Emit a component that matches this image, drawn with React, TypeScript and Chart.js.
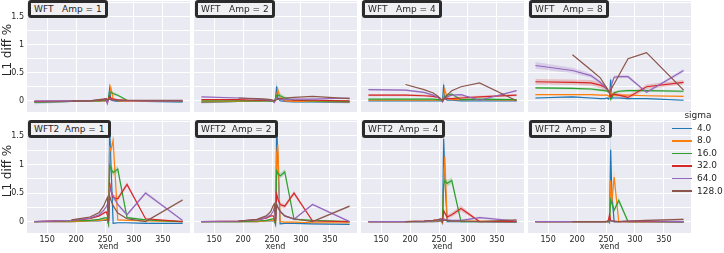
import React, { useEffect, useRef } from "react";
import { Chart, registerables } from "chart.js";

Chart.register(...registerables);

// ---------------- data ----------------
const XEND = [128, 192, 224, 240, 248, 252, 254, 256, 258, 260, 264, 272, 288, 320, 384];
const SIGMA_LABELS = ["4.0", "8.0", "16.0", "32.0", "64.0", "128.0"];
const COLORS = ["#1f77b4", "#ff7f0e", "#2ca02c", "#d62728", "#9467bd", "#8c564b"];
const X_TICKS = [150, 200, 250, 300, 350];
const Y_GRID = [0, 0.25, 0.5, 0.75, 1, 1.25, 1.5, 1.75];
const Y_LABELS = ["0", "", "0.5", "", "1", "", "1.5", ""];
const PANEL_TITLES = [
  "WFT   Amp = 1", "WFT   Amp = 2", "WFT   Amp = 4", "WFT   Amp = 8",
  "WFT2  Amp = 1", "WFT2  Amp = 2", "WFT2  Amp = 4", "WFT2  Amp = 8",
];

// WFT Amp = 1
const p1_s4 = [-0.03, -0.01, 0.0, 0.0, 0.0, 0.0, -0.02, 0.04, 0.22, 0.02, 0.0, -0.01, -0.01, -0.01, -0.02];
const p1_s8 = [-0.02, -0.01, 0.0, 0.0, 0.0, 0.0, -0.01, 0.02, 0.1, 0.24, 0.04, 0.0, -0.01, -0.01, -0.01];
const p1_s16 = [-0.02, -0.01, 0.0, 0.0, 0.01, 0.01, 0.0, 0.05, 0.15, 0.15, 0.13, 0.1, 0.01, 0.0, -0.01];
const p1_s32 = [-0.01, 0.0, 0.0, 0.01, 0.02, 0.02, -0.04, 0.04, 0.08, 0.05, 0.03, 0.02, 0.01, 0.0, 0.0];
const p1_s64 = [0.0, 0.0, 0.0, 0.02, 0.03, 0.03, -0.05, 0.02, 0.04, 0.02, 0.01, 0.01, 0.0, 0.0, 0.0];
const p1_s128 = [null, 0.0, 0.0, 0.02, 0.03, 0.04, 0.01, 0.02, 0.03, 0.02, 0.01, 0.01, 0.01, 0.01, 0.01];
const p1_e4 = [0.03, 0.01, 0.0, 0.0, 0.0, 0.0, 0.01, 0.03, 0.06, 0.02, 0.01, 0.01, 0.01, 0.01, 0.02];
const p1_e8 = [0.01, 0.01, 0.0, 0.0, 0.0, 0.0, 0.01, 0.02, 0.04, 0.05, 0.02, 0.01, 0.0, 0.01, 0.01];
const p1_e16 = [0.01, 0.0, 0.0, 0.0, 0.0, 0.0, 0.01, 0.02, 0.03, 0.04, 0.03, 0.02, 0.01, 0.0, 0.01];

// WFT Amp = 2
const p2_s4 = [-0.03, -0.01, 0.0, 0.0, -0.01, -0.01, -0.02, 0.04, 0.26, 0.05, 0.0, -0.01, -0.02, -0.02, -0.03];
const p2_s8 = [-0.02, -0.01, 0.0, 0.0, 0.0, -0.01, -0.02, 0.02, 0.1, 0.2, 0.05, 0.0, -0.01, -0.01, -0.02];
const p2_s16 = [0.0, 0.0, 0.0, 0.0, 0.0, 0.0, -0.02, 0.04, 0.1, 0.1, 0.09, 0.05, 0.01, 0.0, -0.01];
const p2_s32 = [0.02, 0.02, 0.01, 0.01, 0.01, 0.0, -0.01, 0.02, 0.04, 0.03, 0.03, 0.02, 0.01, 0.01, 0.0];
const p2_s64 = [0.07, 0.05, 0.03, 0.02, 0.01, 0.0, -0.03, 0.02, 0.04, 0.03, 0.02, 0.02, 0.03, 0.03, 0.05];
const p2_s128 = [null, 0.05, 0.04, 0.03, 0.02, 0.01, 0.0, 0.01, 0.02, 0.03, 0.04, 0.05, 0.06, 0.08, 0.04];
const p2_e4 = [0.02, 0.01, 0.0, 0.0, 0.01, 0.01, 0.01, 0.03, 0.12, 0.03, 0.01, 0.01, 0.01, 0.01, 0.02];
const p2_e8 = [0.01, 0.01, 0.0, 0.0, 0.0, 0.01, 0.01, 0.02, 0.05, 0.07, 0.03, 0.01, 0.01, 0.01, 0.01];
const p2_e16 = [0.01, 0.0, 0.0, 0.0, 0.0, 0.0, 0.01, 0.02, 0.04, 0.05, 0.05, 0.03, 0.01, 0.0, 0.01];
const p2_e64 = [0.01, 0.01, 0.01, 0.0, 0.0, 0.0, 0.01, 0.01, 0.01, 0.01, 0.01, 0.01, 0.01, 0.01, 0.01];

// WFT Amp = 4
const p3_s4 = [0.0, 0.0, 0.0, 0.0, 0.0, 0.0, 0.0, -0.01, 0.29, 0.05, 0.01, 0.01, 0.0, 0.0, 0.0];
const p3_s8 = [0.01, 0.01, 0.01, 0.01, 0.01, 0.01, 0.01, -0.01, 0.08, 0.2, 0.05, 0.02, 0.02, 0.02, 0.01];
const p3_s16 = [0.03, 0.03, 0.03, 0.03, 0.02, 0.02, 0.01, 0.0, 0.05, 0.07, 0.1, 0.12, 0.02, 0.03, 0.02];
const p3_s32 = [0.1, 0.1, 0.09, 0.08, 0.06, 0.04, 0.02, -0.01, 0.02, 0.03, 0.04, 0.04, 0.05, 0.07, 0.1];
const p3_s64 = [0.2, 0.19, 0.15, 0.1, 0.06, 0.03, 0.01, -0.02, 0.02, 0.04, 0.07, 0.1, 0.11, 0.01, 0.18];
const p3_s128 = [null, 0.29, 0.2, 0.14, 0.08, 0.04, 0.02, 0.0, 0.03, 0.05, 0.1, 0.18, 0.25, 0.32, 0.0];
const p3_e4 = [0.0, 0.0, 0.0, 0.0, 0.0, 0.0, 0.0, 0.02, 0.1, 0.03, 0.01, 0.0, 0.0, 0.0, 0.0];
const p3_e8 = [0.0, 0.0, 0.0, 0.0, 0.0, 0.0, 0.0, 0.01, 0.04, 0.06, 0.03, 0.01, 0.0, 0.0, 0.0];
const p3_e16 = [0.01, 0.01, 0.01, 0.01, 0.01, 0.01, 0.01, 0.01, 0.02, 0.03, 0.03, 0.02, 0.01, 0.01, 0.01];
const p3_e32 = [0.02, 0.02, 0.02, 0.02, 0.02, 0.02, 0.01, 0.01, 0.02, 0.02, 0.02, 0.02, 0.03, 0.02, 0.02];
const p3_e64 = [0.015, 0.015, 0.015, 0.01, 0.01, 0.01, 0.01, 0.01, 0.01, 0.01, 0.01, 0.01, 0.01, 0.01, 0.015];

// WFT Amp = 8
const p4_s4 = [0.05, 0.07, 0.05, 0.04, 0.04, 0.05, 0.03, 0.06, 0.38, 0.05, 0.05, 0.05, 0.04, 0.04, 0.01];
const p4_s8 = [0.11, 0.11, 0.11, 0.1, 0.1, 0.1, 0.09, 0.06, 0.2, 0.12, 0.1, 0.1, 0.1, 0.09, 0.08];
const p4_s16 = [0.23, 0.22, 0.21, 0.19, 0.18, 0.17, 0.16, 0.15, 0.03, 0.06, 0.14, 0.17, 0.18, 0.18, 0.17];
const p4_s32 = [0.34, 0.33, 0.32, 0.28, 0.24, 0.2, 0.17, 0.15, 0.07, 0.1, 0.12, 0.1, 0.06, 0.25, 0.33];
const p4_s64 = [0.63, 0.54, 0.45, 0.33, 0.25, 0.2, 0.17, 0.15, 0.2, 0.3, 0.42, 0.43, 0.43, 0.15, 0.54];
const p4_s128 = [null, 0.82, 0.55, 0.41, 0.28, 0.22, 0.18, 0.15, 0.19, 0.23, 0.3, 0.45, 0.75, 0.86, 0.19];
const p4_e4 = [0.01, 0.01, 0.01, 0.01, 0.01, 0.01, 0.01, 0.04, 0.09, 0.03, 0.01, 0.01, 0.01, 0.01, 0.01];
const p4_e8 = [0.01, 0.01, 0.01, 0.01, 0.01, 0.01, 0.01, 0.03, 0.05, 0.03, 0.01, 0.01, 0.01, 0.01, 0.01];
const p4_e16 = [0.02, 0.02, 0.02, 0.02, 0.02, 0.02, 0.02, 0.03, 0.06, 0.05, 0.03, 0.02, 0.02, 0.02, 0.02];
const p4_e32 = [0.05, 0.05, 0.05, 0.05, 0.05, 0.04, 0.04, 0.04, 0.05, 0.05, 0.05, 0.04, 0.04, 0.04, 0.04];
const p4_e64 = [0.06, 0.05, 0.04, 0.03, 0.03, 0.03, 0.03, 0.03, 0.04, 0.04, 0.03, 0.03, 0.03, 0.02, 0.03];
const p4_e128 = [null, 0.01, 0.01, 0.01, 0.01, 0.01, 0.01, 0.01, 0.01, 0.01, 0.01, 0.01, 0.01, 0.01, 0.01];

// WFT2 Amp = 1
const p5_s4 = [0.0, 0.0, 0.01, 0.01, 0.02, 0.02, 0.02, -0.05, 1.64, 1.08, -0.03, -0.02, -0.02, -0.03, -0.03];
const p5_s8 = [0.0, 0.0, 0.01, 0.02, 0.03, 0.04, 0.02, -0.04, 1.3, 1.25, 1.42, 0.03, 0.02, 0.01, 0.0];
const p5_s16 = [0.0, 0.01, 0.02, 0.04, 0.06, 0.07, 0.05, -0.03, 0.98, 0.93, 0.86, 0.92, 0.07, 0.03, 0.0];
const p5_s32 = [0.0, 0.02, 0.05, 0.1, 0.15, 0.17, 0.12, 0.0, 0.68, 0.55, 0.42, 0.4, 0.65, 0.05, 0.0];
const p5_s64 = [0.0, 0.02, 0.06, 0.12, 0.2, 0.26, 0.3, 0.0, 0.6, 0.55, 0.45, 0.3, 0.12, 0.5, 0.02];
const p5_s128 = [null, 0.03, 0.08, 0.16, 0.28, 0.38, 0.42, 0.0, 0.45, 0.38, 0.28, 0.15, 0.05, 0.0, 0.38];
const p5_e4 = [0.0, 0.0, 0.0, 0.0, 0.0, 0.0, 0.0, 0.02, 0.15, 0.1, 0.01, 0.01, 0.01, 0.01, 0.01];
const p5_e8 = [0.0, 0.0, 0.0, 0.0, 0.01, 0.01, 0.01, 0.02, 0.08, 0.1, 0.12, 0.01, 0.01, 0.0, 0.0];
const p5_e16 = [0.0, 0.0, 0.0, 0.01, 0.01, 0.01, 0.01, 0.02, 0.07, 0.07, 0.06, 0.06, 0.02, 0.01, 0.0];
const p5_e32 = [0.0, 0.0, 0.01, 0.01, 0.02, 0.02, 0.02, 0.01, 0.05, 0.05, 0.05, 0.05, 0.04, 0.01, 0.0];
const p5_e64 = [0.0, 0.0, 0.01, 0.01, 0.02, 0.02, 0.03, 0.01, 0.04, 0.04, 0.04, 0.03, 0.02, 0.03, 0.01];
const p5_e128 = [null, 0.0, 0.01, 0.01, 0.02, 0.02, 0.02, 0.01, 0.02, 0.02, 0.02, 0.01, 0.01, 0.01, 0.02];

// WFT2 Amp = 2
const p6_s4 = [0.0, 0.0, 0.0, 0.01, 0.01, 0.01, 0.01, -0.05, 1.7, 1.1, -0.04, -0.03, -0.03, -0.04, -0.05];
const p6_s8 = [0.0, 0.0, 0.0, 0.01, 0.02, 0.02, 0.01, -0.03, 1.2, 1.35, 0.0, -0.01, -0.01, -0.02, -0.02];
const p6_s16 = [0.0, 0.0, 0.01, 0.02, 0.04, 0.05, 0.03, -0.03, 0.89, 0.85, 0.8, 0.87, 0.04, 0.02, 0.0];
const p6_s32 = [0.0, 0.01, 0.03, 0.06, 0.1, 0.1, 0.06, 0.0, 0.48, 0.4, 0.3, 0.27, 0.5, 0.01, 0.0];
const p6_s64 = [0.0, 0.01, 0.03, 0.07, 0.12, 0.18, 0.25, 0.02, 0.3, 0.25, 0.18, 0.1, 0.04, 0.3, 0.0];
const p6_s128 = [null, 0.01, 0.04, 0.1, 0.18, 0.28, 0.31, 0.0, 0.3, 0.25, 0.18, 0.1, 0.05, 0.0, 0.27];
const p6_e4 = [0.0, 0.0, 0.0, 0.0, 0.0, 0.0, 0.0, 0.02, 0.12, 0.1, 0.01, 0.01, 0.01, 0.01, 0.01];
const p6_e8 = [0.0, 0.0, 0.0, 0.0, 0.01, 0.01, 0.01, 0.02, 0.1, 0.12, 0.02, 0.01, 0.01, 0.0, 0.0];
const p6_e16 = [0.0, 0.0, 0.0, 0.01, 0.01, 0.01, 0.01, 0.02, 0.06, 0.06, 0.05, 0.05, 0.02, 0.01, 0.0];
const p6_e32 = [0.0, 0.0, 0.01, 0.01, 0.01, 0.01, 0.01, 0.01, 0.05, 0.05, 0.04, 0.04, 0.04, 0.01, 0.0];
const p6_e64 = [0.0, 0.0, 0.01, 0.01, 0.01, 0.02, 0.02, 0.01, 0.03, 0.03, 0.02, 0.02, 0.01, 0.02, 0.01];
const p6_e128 = [null, 0.0, 0.01, 0.01, 0.02, 0.02, 0.02, 0.01, 0.02, 0.02, 0.02, 0.01, 0.01, 0.01, 0.02];

// WFT2 Amp = 4
const p7_s4 = [0.0, 0.0, 0.0, 0.0, 0.0, 0.01, 0.0, -0.03, 1.45, 0.8, 0.0, 0.0, 0.0, 0.0, -0.01];
const p7_s8 = [0.0, 0.0, 0.0, 0.0, 0.01, 0.01, 0.01, -0.02, 0.6, 1.14, 0.02, 0.01, 0.01, 0.01, 0.0];
const p7_s16 = [0.0, 0.0, 0.0, 0.01, 0.02, 0.02, 0.02, 0.0, 0.65, 0.72, 0.67, 0.72, 0.0, 0.0, 0.0];
const p7_s32 = [0.0, 0.0, 0.01, 0.02, 0.03, 0.04, 0.03, 0.0, 0.19, 0.15, 0.08, 0.12, 0.23, 0.0, 0.0];
const p7_s64 = [0.0, 0.0, 0.0, 0.01, 0.02, 0.03, 0.04, 0.02, 0.05, 0.04, 0.03, 0.02, 0.02, 0.07, 0.01];
const p7_s128 = [null, 0.0, 0.01, 0.02, 0.03, 0.05, 0.05, 0.0, 0.03, 0.02, 0.02, 0.01, 0.01, 0.0, 0.03];
const p7_e4 = [0.0, 0.0, 0.0, 0.0, 0.0, 0.0, 0.0, 0.02, 0.28, 0.15, 0.01, 0.0, 0.0, 0.0, 0.0];
const p7_e8 = [0.0, 0.0, 0.0, 0.0, 0.0, 0.0, 0.0, 0.02, 0.15, 0.25, 0.02, 0.0, 0.0, 0.0, 0.0];
const p7_e16 = [0.0, 0.0, 0.0, 0.0, 0.0, 0.0, 0.0, 0.01, 0.07, 0.07, 0.06, 0.06, 0.01, 0.0, 0.0];
const p7_e32 = [0.0, 0.0, 0.0, 0.0, 0.01, 0.01, 0.01, 0.01, 0.04, 0.04, 0.04, 0.04, 0.05, 0.01, 0.0];
const p7_e64 = [0.0, 0.0, 0.0, 0.0, 0.0, 0.01, 0.01, 0.01, 0.01, 0.01, 0.01, 0.01, 0.01, 0.02, 0.01];

// WFT2 Amp = 8
const p8_s4 = [0.0, 0.0, 0.0, 0.0, 0.0, 0.0, 0.0, -0.02, 1.26, 0.5, 0.0, 0.0, 0.0, 0.0, -0.01];
const p8_s8 = [0.0, 0.0, 0.0, 0.0, 0.0, 0.0, 0.0, -0.01, 0.72, 0.33, 0.78, 0.0, 0.0, 0.0, 0.0];
const p8_s16 = [0.0, 0.0, 0.0, 0.0, 0.0, 0.0, 0.0, 0.0, 0.38, 0.32, 0.2, 0.37, 0.0, 0.0, 0.0];
const p8_s32 = [0.0, 0.0, 0.0, 0.0, 0.0, 0.01, 0.02, 0.12, 0.02, 0.01, 0.01, 0.0, 0.0, 0.0, 0.0];
const p8_s64 = [0.0, 0.0, 0.0, 0.0, 0.0, 0.0, 0.01, 0.02, 0.01, 0.01, 0.0, 0.0, 0.01, 0.01, 0.0];
const p8_s128 = [null, 0.0, 0.0, 0.0, 0.0, 0.0, 0.01, 0.02, 0.01, 0.01, 0.0, 0.0, 0.01, 0.02, 0.04];
const p8_e4 = [0.0, 0.0, 0.0, 0.0, 0.0, 0.0, 0.0, 0.02, 0.4, 0.15, 0.01, 0.0, 0.0, 0.0, 0.0];
const p8_e8 = [0.0, 0.0, 0.0, 0.0, 0.0, 0.0, 0.0, 0.01, 0.15, 0.1, 0.12, 0.0, 0.0, 0.0, 0.0];
const p8_e16 = [0.0, 0.0, 0.0, 0.0, 0.0, 0.0, 0.0, 0.01, 0.05, 0.05, 0.04, 0.05, 0.01, 0.0, 0.0];
const p8_e128 = [null, 0.0, 0.0, 0.0, 0.0, 0.0, 0.0, 0.01, 0.01, 0.01, 0.01, 0.01, 0.01, 0.01, 0.02];

const PANELS = [
  { vals: [p1_s4, p1_s8, p1_s16, p1_s32, p1_s64, p1_s128], errs: [p1_e4, p1_e8, p1_e16, null, null, null] },
  { vals: [p2_s4, p2_s8, p2_s16, p2_s32, p2_s64, p2_s128], errs: [p2_e4, p2_e8, p2_e16, null, p2_e64, null] },
  { vals: [p3_s4, p3_s8, p3_s16, p3_s32, p3_s64, p3_s128], errs: [p3_e4, p3_e8, p3_e16, p3_e32, p3_e64, null] },
  { vals: [p4_s4, p4_s8, p4_s16, p4_s32, p4_s64, p4_s128], errs: [p4_e4, p4_e8, p4_e16, p4_e32, p4_e64, p4_e128] },
  { vals: [p5_s4, p5_s8, p5_s16, p5_s32, p5_s64, p5_s128], errs: [p5_e4, p5_e8, p5_e16, p5_e32, p5_e64, p5_e128] },
  { vals: [p6_s4, p6_s8, p6_s16, p6_s32, p6_s64, p6_s128], errs: [p6_e4, p6_e8, p6_e16, p6_e32, p6_e64, p6_e128] },
  { vals: [p7_s4, p7_s8, p7_s16, p7_s32, p7_s64, p7_s128], errs: [p7_e4, p7_e8, p7_e16, p7_e32, p7_e64, null] },
  { vals: [p8_s4, p8_s8, p8_s16, p8_s32, p8_s64, p8_s128], errs: [p8_e4, p8_e8, p8_e16, null, null, p8_e128] },
];

// ---------------- layout ----------------
const FONT = "'DejaVu Sans', sans-serif";
const TEXT = "#262626";
const X_MIN = 115.2;
const X_MAX = 396.8;
const Y_MIN = -0.2;
const Y_MAX = 1.78;
const COL_LEFT = [27, 194, 361, 528];
const ROW_TOP = [1, 120];
const ROW_H = [111, 113];
const PLOT_W = 163;

function rgba(hex: string, a: number) {
  const n = parseInt(hex.slice(1), 16);
  return `rgba(${(n >> 16) & 255},${(n >> 8) & 255},${n & 255},${a})`;
}

const bgPlugin = {
  id: "facetBg",
  beforeDraw(chart: any) {
    const { ctx, chartArea: a } = chart;
    ctx.save();
    ctx.fillStyle = "#EAEAF2";
    ctx.fillRect(a.left, a.top, a.right - a.left, a.bottom - a.top);
    ctx.restore();
  },
};

function Panel({ index }: { index: number }) {
  const ref = useRef<HTMLCanvasElement>(null);
  const row = Math.floor(index / 4);
  const col = index % 4;
  const axisW = col === 0 ? 27 : 0;
  const axisH = row === 1 ? 20 : 0;
  const w = axisW + PLOT_W;
  const h = ROW_H[row] + axisH;
  const left = COL_LEFT[col] - axisW;
  const top = ROW_TOP[row];

  useEffect(() => {
    const p = PANELS[index];
    const datasets: any[] = [];
    p.vals.forEach((vals, s) => {
      const err = p.errs[s];
      if (!err) return;
      datasets.push({
        data: XEND.map((x, i) => ({ x, y: vals[i] == null ? null : (vals[i] as number) - (err[i] as number) })),
        borderColor: "transparent",
        borderWidth: 0,
        pointRadius: 0,
        fill: false,
        order: 20 + s,
      });
      datasets.push({
        data: XEND.map((x, i) => ({ x, y: vals[i] == null ? null : (vals[i] as number) + (err[i] as number) })),
        borderColor: "transparent",
        borderWidth: 0,
        pointRadius: 0,
        fill: "-1",
        backgroundColor: rgba(COLORS[s], 0.22),
        order: 20 + s,
      });
    });
    p.vals.forEach((vals, s) => {
      datasets.push({
        data: XEND.map((x, i) => ({ x, y: vals[i] })),
        borderColor: COLORS[s],
        borderWidth: 1.2,
        pointRadius: 0,
        fill: false,
        tension: 0,
        order: 5 - s,
      });
    });

    const chart = new Chart(ref.current as HTMLCanvasElement, {
      type: "line",
      data: { datasets },
      options: {
        animation: false,
        responsive: false,
        maintainAspectRatio: false,
        devicePixelRatio: 1,
        events: [],
        layout: { padding: 0 },
        plugins: { legend: { display: false }, tooltip: { enabled: false }, title: { display: false } },
        scales: {
          x: {
            type: "linear",
            min: X_MIN,
            max: X_MAX,
            afterBuildTicks: (s: any) => {
              s.ticks = X_TICKS.map((v) => ({ value: v }));
            },
            afterFit: (s: any) => {
              s.height = axisH;
              s.paddingLeft = 0;
              s.paddingRight = 0;
            },
            ticks: {
              display: row === 1,
              font: { family: FONT, size: 8 },
              color: TEXT,
              padding: 2,
              maxRotation: 0,
              autoSkip: false,
              callback: (v: any) => String(v),
            },
            grid: { color: "#ffffff", lineWidth: 1, drawTicks: false },
            border: { display: false },
          },
          y: {
            type: "linear",
            min: Y_MIN,
            max: Y_MAX,
            afterBuildTicks: (s: any) => {
              s.ticks = Y_GRID.map((v) => ({ value: v }));
            },
            afterFit: (s: any) => {
              s.width = axisW;
              s.paddingTop = 0;
              s.paddingBottom = 0;
            },
            ticks: {
              display: col === 0,
              font: { family: FONT, size: 8 },
              color: TEXT,
              padding: 3,
              autoSkip: false,
              callback: (v: any) => {
                const k = Y_GRID.indexOf(Number(v));
                return k >= 0 ? Y_LABELS[k] : "";
              },
            },
            grid: { color: "#ffffff", lineWidth: 1, drawTicks: false },
            border: { display: false },
          },
        },
      } as any,
      plugins: [bgPlugin],
    });
    return () => chart.destroy();
  }, [index]);

  return (
    <canvas
      ref={ref}
      width={w}
      height={h}
      style={{ position: "absolute", left, top, width: w, height: h, display: "block" }}
    />
  );
}

export default function App() {
  return (
    <div
      style={{
        position: "absolute",
        left: 0,
        top: 0,
        width: 724,
        height: 253,
        background: "#ffffff",
        overflow: "hidden",
        fontFamily: FONT,
        color: TEXT,
      }}
    >
      {PANEL_TITLES.map((_, i) => (
        <Panel key={i} index={i} />
      ))}
      {PANEL_TITLES.map((t, i) => {
        const row = Math.floor(i / 4);
        const col = i % 4;
        return (
          <div
            key={"t" + i}
            style={{
              position: "absolute",
              left: COL_LEFT[col] + 1,
              top: row === 0 ? 0 : ROW_TOP[row],
              height: 12,
              lineHeight: "12px",
              padding: "0 3px",
              border: "3px solid #2b2b2b",
              borderRadius: 3,
              background: "#f0f0f3",
              fontSize: 9,
              whiteSpace: "pre",
              color: TEXT,
            }}
          >
            {t}
          </div>
        );
      })}
      {[0, 1].map((r) => (
        <div
          key={"yl" + r}
          style={{
            position: "absolute",
            left: 6.5 - 40,
            top: (r === 0 ? 50 : 171) - 7,
            width: 80,
            height: 14,
            lineHeight: "14px",
            textAlign: "center",
            fontSize: 12,
            transform: "rotate(-90deg)",
            whiteSpace: "pre",
          }}
        >
          L1 diff %
        </div>
      ))}
      {COL_LEFT.map((l, c) => (
        <div
          key={"xl" + c}
          style={{
            position: "absolute",
            left: l + PLOT_W / 2 - 30,
            top: 242,
            width: 60,
            textAlign: "center",
            fontSize: 8,
            lineHeight: "10px",
          }}
        >
          xend
        </div>
      ))}
      <div
        style={{
          position: "absolute",
          left: 668,
          top: 110,
          width: 60,
          textAlign: "center",
          fontSize: 9,
          lineHeight: "11px",
        }}
      >
        sigma
      </div>
      {SIGMA_LABELS.map((lab, i) => (
        <React.Fragment key={"lg" + i}>
          <div
            style={{
              position: "absolute",
              left: 672,
              top: 127.5 + 12.55 * i,
              width: 20,
              height: 1.5,
              background: COLORS[i],
            }}
          />
          <div
            style={{
              position: "absolute",
              left: 697,
              top: 128.3 + 12.55 * i - 5.5,
              fontSize: 9,
              lineHeight: "11px",
              whiteSpace: "pre",
            }}
          >
            {lab}
          </div>
        </React.Fragment>
      ))}
    </div>
  );
}
